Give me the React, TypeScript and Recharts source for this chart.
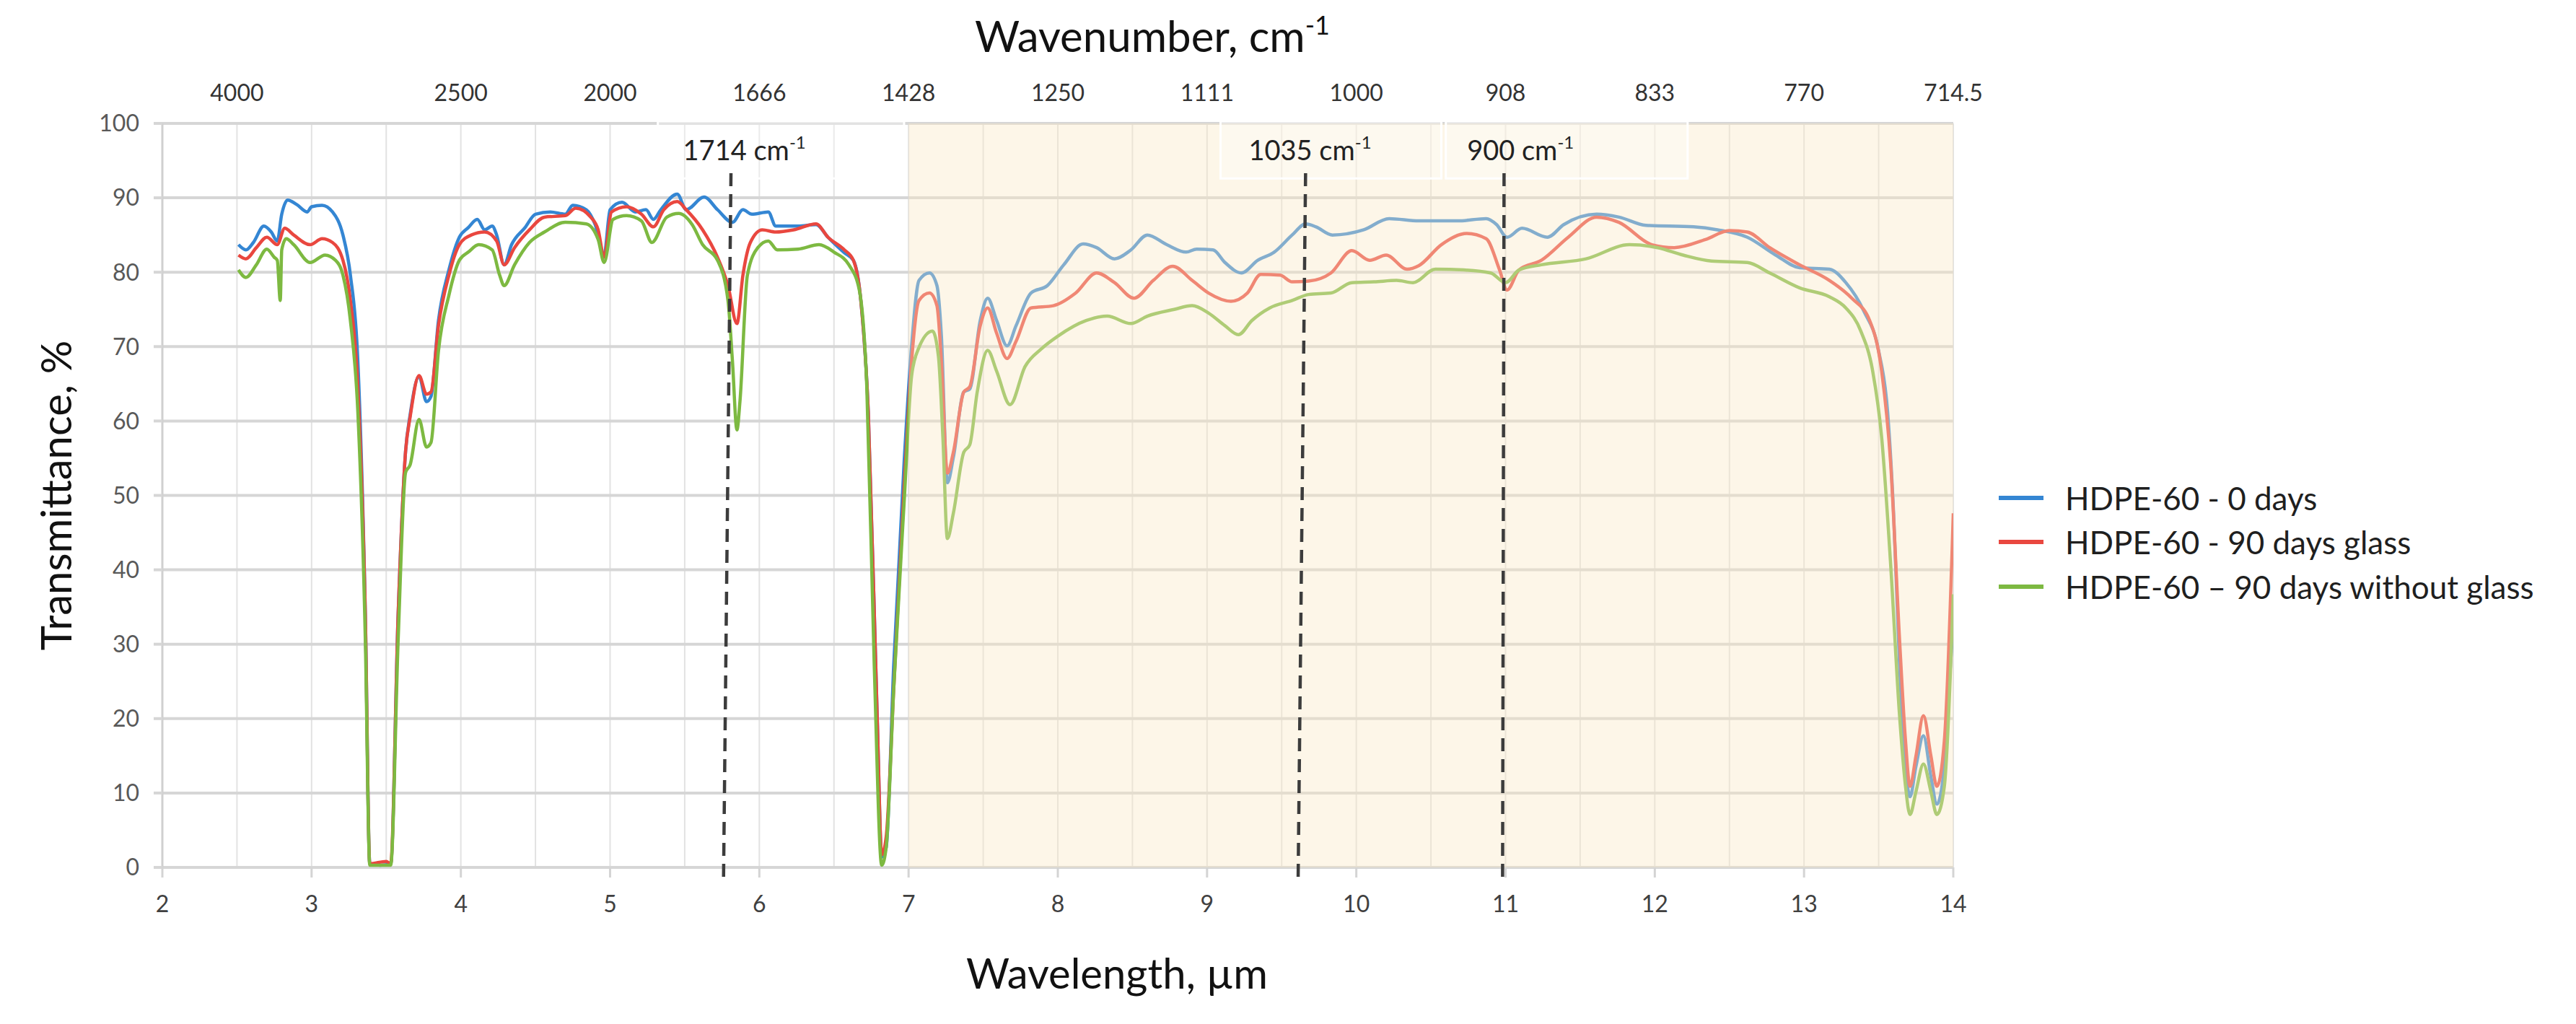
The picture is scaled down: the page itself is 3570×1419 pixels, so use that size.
import React from 'react';
import {
  LineChart,
  Line,
  XAxis,
  YAxis,
  CartesianGrid,
  ReferenceArea,
  ReferenceLine,
  ReferenceDot,
  Legend,
  Label,
} from 'recharts';

const FONT = 'Lato, "Open Sans", sans-serif';

// wavelength (µm) and transmittance (%)
const BLUE_WL = [
  2.51, 2.56, 2.61, 2.68, 2.73, 2.77, 2.8, 2.84, 2.9, 2.97, 3.0, 3.07, 3.14, 3.21, 3.26, 3.31, 3.36, 3.39, 3.46, 3.53,
  3.58, 3.63, 3.66, 3.72, 3.77, 3.8, 3.85, 3.92, 3.99, 4.05, 4.11, 4.16, 4.21, 4.24, 4.29, 4.34, 4.43, 4.5, 4.6, 4.7,
  4.75, 4.84, 4.9, 4.96, 5.0, 5.08, 5.17, 5.24, 5.29, 5.34, 5.45, 5.51, 5.63, 5.72, 5.82, 5.89, 5.95, 6.06, 6.11, 6.26,
  6.38, 6.46, 6.57, 6.63, 6.68, 6.73, 6.79, 6.82, 6.85, 6.9, 6.97, 7.02, 7.07, 7.14, 7.19, 7.22, 7.26, 7.3, 7.37, 7.41,
  7.48, 7.53, 7.59, 7.66, 7.72, 7.82, 7.93, 8.04, 8.17, 8.26, 8.38, 8.49, 8.6, 8.73, 8.86, 8.93, 9.04, 9.12, 9.23, 9.34,
  9.45, 9.57, 9.66, 9.73, 9.84, 10.05, 10.22, 10.42, 10.68, 10.87, 10.94, 11.01, 11.11, 11.28, 11.39, 11.61, 11.76,
  11.94, 12.26, 12.42, 12.62, 12.81, 12.97, 13.17, 13.28, 13.4, 13.5, 13.56, 13.6, 13.64, 13.68, 13.71, 13.75, 13.8,
  13.85, 13.89, 13.94, 13.97, 14.0,
];
const BLUE_T = [
  83.7, 83.0, 84.0, 86.2, 85.4, 84.2, 87.8, 89.7, 89.1, 88.1, 88.8, 89.0, 88.1, 85.0, 79.6, 68, 34, 0.5, 0.3, 0.5,
  34, 56, 60.8, 66, 62.6, 63.3, 73.5, 80.3, 84.7, 86.0, 87.1, 85.7, 86.2, 85.0, 81.0, 83.7, 86.0, 87.8, 88.1, 87.8,
  89.0, 88.4, 86.4, 82.3, 88.4, 89.4, 88.1, 88.4, 87.1, 88.4, 90.5, 88.4, 90.1, 88.4, 86.7, 88.4, 87.8, 88.1, 86.2, 86.2,
  86.4, 84.7, 82.6, 81.6, 76.2, 61.2, 20, 1.4, 2.7, 27, 54.4, 70, 78.9, 79.9, 78.2, 71.4, 51.7, 55.1, 63.9, 64.3,
  73.5, 76.5, 73.5, 70.1, 72.8, 77.2, 78.2, 81.0, 83.8, 83.3, 81.8, 83.0, 85.0, 83.7, 82.7, 83.1, 83.0, 81.3, 79.9, 81.6,
  82.7, 85.0, 86.5, 86.1, 85.0, 85.7, 87.2, 86.9, 86.9, 87.2, 86.4, 84.7, 85.9, 84.7, 86.4, 87.8, 87.4,
  86.3, 86.1, 85.7, 84.7, 82.3, 80.6, 80.4, 78.6, 74.8, 69.4, 61.2, 47.6, 27.2, 13.6, 9.5, 13.6, 17.7,
  12.2, 8.5, 13.6, 23.8, 33,
];

const RED_WL = [
  2.51, 2.56, 2.63, 2.7, 2.77, 2.82, 2.88, 2.99, 3.07, 3.14, 3.21, 3.26, 3.31, 3.36, 3.39, 3.5, 3.53, 3.58, 3.63, 3.66,
  3.72, 3.77, 3.8, 3.85, 3.92, 3.99, 4.07, 4.16, 4.24, 4.29, 4.36, 4.46, 4.56, 4.7, 4.77, 4.87, 4.92, 4.96, 5.01, 5.11,
  5.21, 5.29, 5.36, 5.45, 5.51, 5.62, 5.72, 5.79, 5.85, 5.89, 5.94, 6.02, 6.11, 6.23, 6.38, 6.46, 6.57, 6.63, 6.68, 6.73,
  6.79, 6.82, 6.85, 6.9, 6.97, 7.02, 7.07, 7.14, 7.19, 7.22, 7.26, 7.3, 7.37, 7.41, 7.48, 7.53, 7.59, 7.66, 7.72, 7.82,
  7.97, 8.12, 8.26, 8.38, 8.51, 8.64, 8.77, 8.9, 9.01, 9.16, 9.27, 9.36, 9.49, 9.57, 9.68, 9.83, 9.97, 10.09, 10.2,
  10.34, 10.42, 10.57, 10.74, 10.87, 10.96, 11.01, 11.09, 11.24, 11.42, 11.61, 11.76, 11.98, 12.13, 12.34, 12.5, 12.62,
  12.77, 12.97, 13.17, 13.32, 13.44, 13.52, 13.58, 13.64, 13.68, 13.71, 13.75, 13.8, 13.85, 13.89, 13.94, 14.0,
];
const RED_T = [
  82.3, 81.8, 83.3, 84.7, 83.7, 85.9, 85.0, 83.7, 84.5, 84.0, 81.6, 76.2, 64.6, 34, 0.5, 0.8, 0.5, 34, 56, 60.5,
  66.1, 63.6, 63.9, 72.8, 79.6, 83.7, 85.0, 85.4, 84.2, 81.0, 83.3, 85.7, 87.4, 87.6, 88.6, 87.4, 85.7, 82.0, 88.1, 88.8,
  87.8, 86.1, 88.4, 89.5, 88.4, 85.7, 82.0, 78.2, 73.1, 79.6, 84.0, 85.7, 85.4, 85.7, 86.5, 84.7, 83.0, 81.6, 76.2, 61.2,
  20, 1.7, 4.1, 23.8, 51, 68, 76.2, 77.2, 75.5, 68, 53, 55.8, 63.9, 64.6, 72.8, 75.2, 71.8, 68.4, 70.7, 75.2,
  75.5, 77.2, 79.9, 78.6, 76.5, 78.9, 80.8, 78.9, 77.2, 76.1, 77.2, 79.7, 79.6, 78.7, 78.8, 79.9, 82.9, 81.6, 82.3,
  80.4, 80.9, 83.7, 85.2, 84.5, 80.3, 77.6, 80.3, 81.6, 84.7, 87.4, 86.7, 83.7, 83.3, 84.4, 85.6, 85.4,
  83.3, 81.0, 78.9, 76.5, 73.5, 66.7, 54.4, 30.6, 17, 10.9, 15, 20.4, 15, 10.9, 17, 47.6,
];

const GREEN_WL = [
  2.51, 2.56, 2.63, 2.7, 2.75, 2.77, 2.79, 2.8, 2.83, 2.88, 2.99, 3.09, 3.16, 3.21, 3.26, 3.31, 3.36, 3.39, 3.53, 3.58,
  3.63, 3.66, 3.72, 3.77, 3.8, 3.85, 3.92, 3.99, 4.05, 4.12, 4.21, 4.26, 4.29, 4.36, 4.46, 4.56, 4.7, 4.84, 4.92, 4.96,
  5.02, 5.11, 5.21, 5.28, 5.38, 5.46, 5.55, 5.62, 5.72, 5.79, 5.82, 5.85, 5.87, 5.92, 5.99, 6.06, 6.12, 6.26, 6.4, 6.5,
  6.6, 6.67, 6.72, 6.77, 6.82, 6.85, 6.9, 6.97, 7.02, 7.06, 7.16, 7.2, 7.23, 7.26, 7.3, 7.37, 7.41, 7.46, 7.53, 7.59,
  7.68, 7.78, 7.89, 8.0, 8.19, 8.33, 8.49, 8.6, 8.78, 8.9, 9.01, 9.12, 9.21, 9.3, 9.42, 9.57, 9.68, 9.83, 9.97, 10.12,
  10.27, 10.38, 10.53, 10.72, 10.9, 11.0, 11.09, 11.24, 11.54, 11.83, 12.02, 12.19, 12.38, 12.62, 12.77, 12.97, 13.17,
  13.28, 13.38, 13.46, 13.52, 13.58, 13.64, 13.68, 13.71, 13.75, 13.8, 13.85, 13.89, 13.94, 14.0,
];
const GREEN_T = [
  80.3, 79.3, 81.0, 83.1, 82.0, 81.6, 76.2, 83.0, 84.5, 83.7, 81.3, 82.3, 81.6, 79.6, 73.5, 61.2, 30.6, 0.3, 0.3, 30.6,
  53.1, 54.1, 60.2, 56.5, 57.1, 69.4, 76.9, 81.6, 82.7, 83.7, 83.0, 79.6, 78.2, 81.0, 84.0, 85.4, 86.7, 86.5, 84.4, 81.3,
  87.1, 87.6, 86.9, 84.0, 87.4, 87.9, 86.4, 83.7, 81.6, 76.2, 68, 58.8, 62.6, 79.6, 83.3, 84.2, 83.0, 83.1, 83.7, 82.7,
  81.0, 77.6, 64.6, 27.2, 0.3, 2.7, 23.8, 49, 66, 69.4, 72.1, 68.7, 57.8, 44.2, 47.6, 55.8, 56.8, 63.9, 69.5, 66.7,
  62.2, 67.3, 69.7, 71.4, 73.5, 74.1, 73.1, 74.1, 75, 75.5, 74.5, 72.8, 71.6, 73.5, 75.2, 76.2, 77.0, 77.2, 78.6, 78.7,
  78.9, 78.6, 80.4, 80.3, 79.9, 78.6, 80.3, 81.0, 81.8, 83.7, 83.3, 82.3, 81.5, 81.3, 79.9, 77.9, 76.7,
  75.2, 72.1, 66.7, 57.8, 40.8, 20.4, 10.9, 7.1, 10.2, 13.9, 10.2, 7.1, 10.9, 36.7,
];

const GRID_X = [2, 2.5, 3, 3.5, 4, 4.5, 5, 5.5, 6, 6.5, 7, 7.5, 8, 8.5, 9, 9.5, 10, 10.5, 11, 11.5, 12, 12.5, 13, 13.5, 14];
const Y_TICKS = [0, 10, 20, 30, 40, 50, 60, 70, 80, 90, 100];
const TOP_TICKS = [2.5, 4, 5, 6, 7, 8, 9, 10, 11, 12, 13, 14];
const TOP_LABELS = ['4000', '2500', '2000', '1666', '1428', '1250', '1111', '1000', '908', '833', '770', '714.5'];

const SERIES = [
  { name: 'HDPE-60 - 0 days', color: '#3486d3', wl: BLUE_WL, t: BLUE_T },
  { name: 'HDPE-60 - 90 days glass', color: '#e9473f', wl: RED_WL, t: RED_T },
  { name: 'HDPE-60 \u2013 90 days without glass', color: '#7db941', wl: GREEN_WL, t: GREEN_T },
];

// annotated bands: dashed line ends, label centre and its text box (data units)
const MARKERS = [
  { wn: '1714', top: 5.81, bottom: 5.76, textX: 5.9, box: [5.32, 6.97] },
  { wn: '1035', top: 9.66, bottom: 9.61, textX: 9.69, box: [9.09, 10.57] },
  { wn: '900', top: 10.99, bottom: 10.98, textX: 11.1, box: [10.6, 12.22] },
];

const BottomTick = ({ x, y, payload }: any) => {
  if (!Number.isInteger(payload.value)) return <g />;
  return (
    <g>
      <line x1={x} x2={x} y1={y} y2={y + 14} stroke="#d4d4d4" strokeWidth={3} />
      <text x={x} y={y + 62} textAnchor="middle" fill="#404040" fontSize={32} fontFamily={FONT}>
        {payload.value}
      </text>
    </g>
  );
};

const TopTick = ({ x, y, payload }: any) => (
  <text x={x} y={y - 31} textAnchor="middle" fill="#333333" fontSize={32} fontFamily={FONT}>
    {TOP_LABELS[TOP_TICKS.indexOf(payload.value)]}
  </text>
);

const YTitle = ({ viewBox }: any) => {
  const cx = viewBox.x + 76;
  const cy = viewBox.y + viewBox.height / 2;
  return (
    <text
      x={cx}
      y={cy}
      transform={`rotate(-90 ${cx} ${cy})`}
      textAnchor="middle"
      dominantBaseline="central"
      fontSize={58}
      fontFamily={FONT}
      fill="#111"
    >
      Transmittance, %
    </text>
  );
};

const BottomTitle = ({ viewBox }: any) => (
  <text x={viewBox.x + 1323} y={viewBox.y + 168} textAnchor="middle" fontSize={58} fontFamily={FONT} fill="#111">
    Wavelength, µm
  </text>
);

const TopTitle = ({ viewBox }: any) => (
  <text x={viewBox.x + 1372} y={viewBox.y - 19} textAnchor="middle" fontSize={60} fontFamily={FONT} fill="#111">
    Wavenumber, cm
    <tspan fontSize={36} dy={-24}>-1</tspan>
  </text>
);

const MarkerText = (wn: string) => (p: any) => (
  <text x={p.cx} y={p.cy} textAnchor="middle" fontSize={38} fontFamily={FONT} fill="#222">
    {wn} cm
    <tspan fontSize={24} dy={-16}>-1</tspan>
  </text>
);

const LegendBox = () => (
  <div style={{ fontFamily: FONT, fontSize: 44, color: '#1f1f1f' }}>
    {SERIES.map((s) => (
      <div key={s.name} style={{ display: 'flex', alignItems: 'center', height: 61.5 }}>
        <div style={{ width: 62, height: 6, background: s.color, marginRight: 30 }} />
        <span style={{ whiteSpace: 'nowrap' }}>{s.name}</span>
      </div>
    ))}
  </div>
);

export default function App() {
  return (
    <div style={{ position: 'absolute', left: 0, top: 0, width: 3570, height: 1419, background: '#fff' }}>
      <LineChart width={3570} height={1419} margin={{ top: 91, right: 863, bottom: 117, left: 0 }}>
        <CartesianGrid horizontal={false} stroke="#e2e2e2" strokeWidth={2} />
        <CartesianGrid vertical={false} stroke="#d6d6d6" strokeWidth={4} />
        <XAxis
          dataKey="wl"
          type="number"
          domain={[2, 14]}
          ticks={GRID_X}
          interval={0}
          height={100}
          tickSize={0}
          tickMargin={0}
          tickLine={false}
          axisLine={false}
          tick={<BottomTick />}
          allowDataOverflow
        >
          <Label content={<BottomTitle />} />
        </XAxis>
        <XAxis
          xAxisId="top"
          orientation="top"
          dataKey="wl"
          type="number"
          domain={[2, 14]}
          ticks={TOP_TICKS}
          interval={0}
          height={80}
          tickSize={0}
          tickMargin={0}
          tickLine={false}
          axisLine={false}
          tick={<TopTick />}
          allowDataOverflow
        >
          <Label content={<TopTitle />} />
        </XAxis>
        <YAxis
          type="number"
          domain={[0, 100]}
          ticks={Y_TICKS}
          interval={0}
          width={225}
          tickSize={12}
          tickMargin={20}
          tickLine={{ stroke: '#d6d6d6', strokeWidth: 4 }}
          axisLine={{ stroke: '#d0d0d0', strokeWidth: 3 }}
          tick={{ fill: '#595959', fontSize: 32, fontFamily: FONT }}
        >
          <Label content={<YTitle />} />
        </YAxis>
        {SERIES.map((s) => (
          <Line
            key={s.name}
            name={s.name}
            data={s.wl.map((wl, i) => ({ wl, t: s.t[i] }))}
            dataKey="t"
            type="monotone"
            stroke={s.color}
            strokeWidth={4.5}
            dot={false}
            activeDot={false}
            isAnimationActive={false}
          />
        ))}
        <ReferenceArea x1={7} x2={14} y1={0} y2={100} fill="#fae8c5" fillOpacity={0.4} stroke="none" zIndex={450} />
        {MARKERS.map((m) => (
          <ReferenceArea
            key={`box-${m.wn}`}
            x1={m.box[0]}
            x2={m.box[1]}
            y1={92.6}
            y2={100.3}
            fill="#ffffff"
            fillOpacity={0.3}
            stroke="#ffffff"
            strokeWidth={3}
            ifOverflow="visible"
            zIndex={460}
          />
        ))}
        {MARKERS.map((m) => (
          <ReferenceLine
            key={`line-${m.wn}`}
            segment={[
              { x: m.top, y: 93.3 },
              { x: m.bottom, y: -1.9 },
            ]}
            stroke="#3c3c3c"
            strokeWidth={4.5}
            strokeDasharray="18 11"
            ifOverflow="visible"
            zIndex={470}
          />
        ))}
        {MARKERS.map((m) => (
          <ReferenceDot key={`txt-${m.wn}`} x={m.textX} y={95.05} r={0} shape={MarkerText(m.wn)} zIndex={480} />
        ))}
        <Legend
          layout="vertical"
          align="center"
          verticalAlign="middle"
          content={<LegendBox />}
          wrapperStyle={{ left: 2770, top: 659, width: 780 }}
        />
      </LineChart>
    </div>
  );
}
